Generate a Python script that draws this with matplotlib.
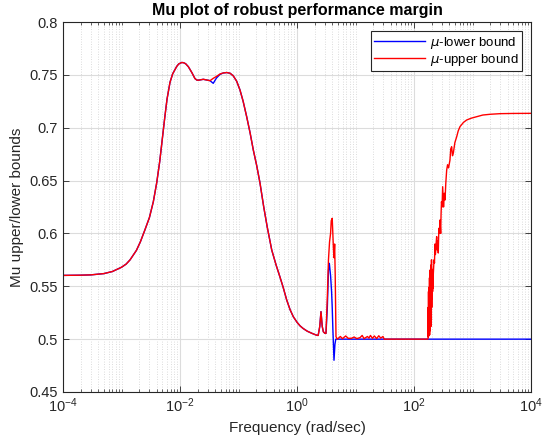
"""Mu plot of robust performance margin (upper/lower bounds vs frequency)."""

import matplotlib

matplotlib.use("Agg")
import matplotlib.pyplot as plt
import numpy as np
from matplotlib.ticker import FixedLocator, FormatStrFormatter, LogFormatterMathtext, NullFormatter

plt.rcParams["font.family"] = ["Liberation Sans", "DejaVu Sans"]
plt.rcParams["mathtext.fontset"] = "dejavusans"

# shared part of both bounds (they coincide here)
freq_common = [1e-4, 2e-4, 3e-4, 5e-4, 7e-4, 1e-3, 1.2e-3, 1.4e-3, 1.8e-3, 2.1e-3, 2.5e-3,
               3e-3, 3.5e-3, 4e-3, 4.5e-3, 5e-3, 5.5e-3, 6e-3, 6.75e-3, 7.5e-3, 8.2e-3,
               8.8e-3, 9.5e-3, 0.0107, 0.0115, 0.0125, 0.0139, 0.016, 0.018, 0.0195, 0.021,
               0.025, 0.0326]
mu_common = [0.5603, 0.5605, 0.5608, 0.5620, 0.5640, 0.5680, 0.5710, 0.5750, 0.5840, 0.5920,
             0.6030, 0.6150, 0.6300, 0.6480, 0.6680, 0.6900, 0.7100, 0.7270, 0.7430, 0.7510,
             0.7550, 0.7580, 0.7603, 0.7617, 0.7615, 0.7605, 0.7577, 0.7520, 0.7465, 0.7450,
             0.7450, 0.7458, 0.7445]

freq_mid = [0.037, 0.042, 0.0483, 0.055, 0.063, 0.072, 0.0815, 0.093, 0.106, 0.12, 0.138,
            0.158, 0.179, 0.205, 0.233, 0.27, 0.31, 0.37, 0.44, 0.51, 0.58, 0.667, 0.76,
            0.865, 1.0, 1.13, 1.28, 1.5, 1.8, 2.17, 2.3, 2.45, 2.57, 2.7, 2.82, 3.0, 3.13]
mu_mid_upper = [0.7467, 0.7485, 0.7508, 0.7518, 0.7522, 0.7515, 0.7490, 0.7440, 0.7357, 0.7250,
                0.7104, 0.6950, 0.6790, 0.6640, 0.6477, 0.6250, 0.6060, 0.5843, 0.5700, 0.5590,
                0.5490, 0.5370, 0.5280, 0.5212, 0.5160, 0.5125, 0.5100, 0.5075, 0.5055, 0.5037,
                0.5035, 0.5120, 0.5260, 0.5120, 0.5070, 0.5055, 0.5055]
mu_mid_lower = [0.7420, 0.7470, 0.7505, 0.7518, 0.7522, 0.7515, 0.7490, 0.7440, 0.7357, 0.7250,
                0.7104, 0.6950, 0.6790, 0.6640, 0.6477, 0.6250, 0.6060, 0.5843, 0.5700, 0.5590,
                0.5490, 0.5370, 0.5280, 0.5212, 0.5160, 0.5125, 0.5100, 0.5075, 0.5055, 0.5037,
                0.5035, 0.5120, 0.5260, 0.5120, 0.5070, 0.5055, 0.5055]

# upper bound after the shared part
freq_up_tail = [3.3, 3.45, 3.6, 3.75, 3.85, 4.0, 4.1, 4.2, 4.29, 4.4, 4.5, 4.64, 4.9, 5.5, 6.0,
                6.8, 7.5, 8.5, 9.5, 10.5, 12, 13, 14, 16, 17, 18, 19.5, 21, 23, 25, 27, 29.5,
                31, 100, 172, 174, 175, 176, 177, 178, 179, 180, 181, 182, 183, 184, 185, 186,
                187, 188, 189, 190, 192, 193, 195, 196, 198, 199, 201, 202, 204, 206, 208, 210,
                212, 214, 217, 220, 224, 228, 232, 236, 240, 244, 248, 252, 256, 260, 264, 268,
                273, 278, 282, 286, 290, 295, 302, 309, 315, 320, 330, 339, 350, 362, 375, 390,
                412, 425, 440, 455, 470, 500, 537, 570, 611, 700, 795, 950, 1175, 1500, 1995,
                3000, 5000, 1e4]
mu_up_tail = [0.540, 0.575, 0.592, 0.600, 0.612, 0.6143, 0.600, 0.585, 0.577, 0.590, 0.560,
              0.5023, 0.500, 0.5025, 0.5005, 0.503, 0.5008, 0.5008, 0.502, 0.5005, 0.5015,
              0.5035, 0.5005, 0.5025, 0.501, 0.5035, 0.5008, 0.503, 0.5005, 0.5032, 0.501,
              0.5025, 0.500, 0.500, 0.500, 0.5008, 0.530, 0.502, 0.545, 0.503, 0.520, 0.549,
              0.505, 0.535, 0.510, 0.558, 0.504, 0.540, 0.515, 0.5654, 0.508, 0.545, 0.520,
              0.570, 0.512, 0.550, 0.518, 0.575, 0.530, 0.560, 0.538, 0.566, 0.545, 0.557,
              0.548, 0.562, 0.568, 0.575, 0.572, 0.590, 0.580, 0.585, 0.592, 0.597, 0.588,
              0.584, 0.593, 0.5815, 0.598, 0.605, 0.600, 0.6127, 0.606, 0.600, 0.618, 0.630,
              0.625, 0.6442, 0.633, 0.625, 0.638, 0.6316, 0.648, 0.660, 0.665, 0.662, 0.6694,
              0.680, 0.682, 0.6735, 0.676, 0.686, 0.6915, 0.697, 0.701, 0.705, 0.7073, 0.709,
              0.7104, 0.712, 0.7127, 0.7133, 0.7135, 0.7136]

# lower bound after the shared part
freq_low_tail = [3.3, 3.45, 3.57, 3.75, 3.9, 4.0, 4.1, 4.29, 4.45, 4.6, 1e4]
mu_low_tail = [0.530, 0.565, 0.5717, 0.560, 0.545, 0.530, 0.510, 0.480, 0.495, 0.500, 0.500]

freq_lower = np.array(freq_common + freq_mid + freq_low_tail)
mu_lower = np.array(mu_common + mu_mid_lower + mu_low_tail)
freq_upper = np.array(freq_common + freq_mid + freq_up_tail)
mu_upper = np.array(mu_common + mu_mid_upper + mu_up_tail)

fig = plt.figure(figsize=(5.42, 4.46), dpi=100)
ax = fig.add_axes([63 / 542, 1 - 392 / 446, 468 / 542, 370 / 446])

ax.semilogx(freq_lower, mu_lower, color="#0000ff", lw=1.0, label=r"$\mu$-lower bound")
ax.semilogx(freq_upper, mu_upper, color="#ff0000", lw=1.0, label=r"$\mu$-upper bound")

ax.set_xlim(1e-4, 1e4)
ax.set_ylim(0.45, 0.8)

major_x = [1e-4, 1e-2, 1e0, 1e2, 1e4]
minor_x = [m * 10.0 ** k for k in range(-4, 4) for m in range(1, 10)
           if not (m == 1 and k % 2 == 0)]
ax.xaxis.set_major_locator(FixedLocator(major_x))
ax.xaxis.set_minor_locator(FixedLocator(minor_x))
ax.xaxis.set_major_formatter(LogFormatterMathtext())
ax.xaxis.set_minor_formatter(NullFormatter())
ax.set_yticks(np.arange(0.45, 0.801, 0.05))
ax.yaxis.set_major_formatter(FormatStrFormatter("%g"))

ax.grid(True, which="major", color="#dcdcdc", lw=0.8)
ax.grid(True, which="minor", axis="x", color="#d0d0d0", lw=0.6, ls=(0, (1, 2)))
ax.set_axisbelow(True)

ax.tick_params(which="both", direction="in", top=True, right=True, colors="#262626",
               labelsize=10.5, labelcolor="#262626")
ax.tick_params(which="major", length=4, width=0.6)
ax.tick_params(which="minor", length=2, width=0.5)
for s in ax.spines.values():
    s.set_color("#262626")
    s.set_linewidth(0.8)

ax.set_xlabel("Frequency (rad/sec)", fontsize=11, color="#262626")
ax.set_ylabel("Mu upper/lower bounds", fontsize=11, color="#262626")
ax.set_title("Mu plot of robust performance margin", fontsize=11.5, fontweight="bold", pad=5)

leg = ax.legend(loc="upper right", fontsize=9.5, handlelength=3.8, fancybox=False,
                framealpha=1, edgecolor="#262626", borderpad=0.25, labelspacing=0.1,
                handletextpad=0.4, borderaxespad=0.7)
leg.get_frame().set_linewidth(0.8)

fig.savefig("out.png", dpi=100)
